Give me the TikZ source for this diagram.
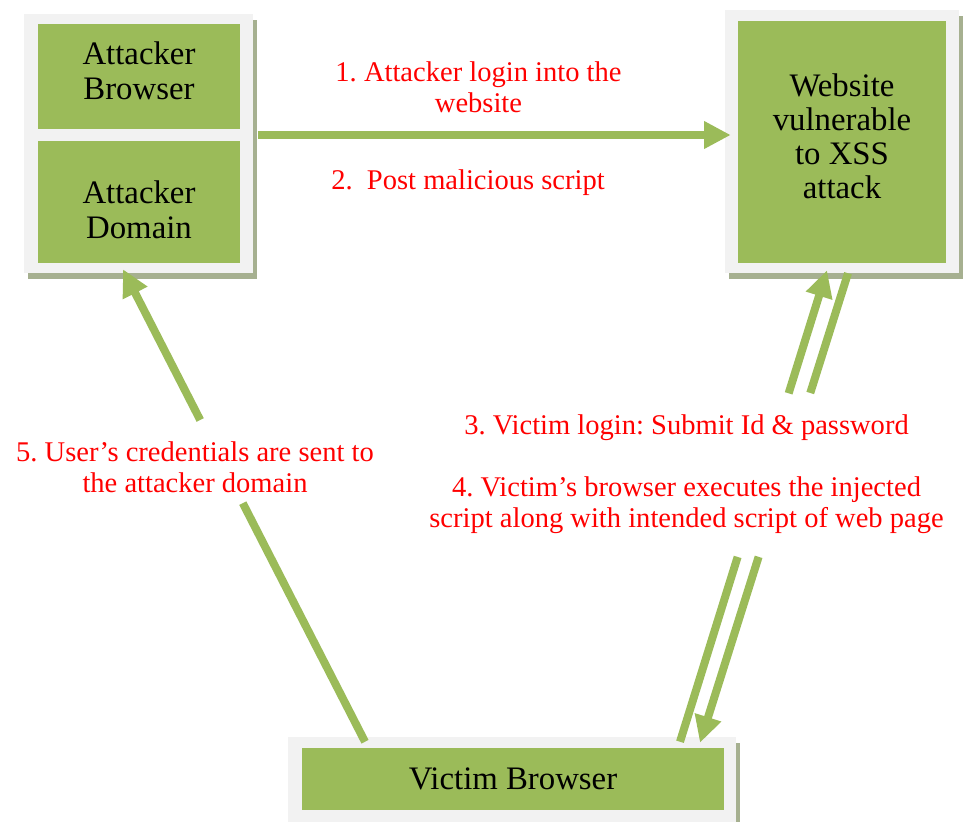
\documentclass[tikz,border=0pt]{standalone}
\usepackage{fontspec}
\setmainfont{Liberation Serif}
\usetikzlibrary{arrows.meta,calc,shadows}
\definecolor{boxgreen}{RGB}{155,187,89}
\definecolor{panelgray}{RGB}{242,242,242}
\definecolor{shadowgray}{RGB}{166,176,144}
\definecolor{noteRed}{RGB}{255,0,0}
\frenchspacing

\begin{document}
\begin{tikzpicture}[x=0.75pt,y=-0.75pt,
  panel/.style={rectangle, fill=panelgray, inner sep=0pt,
    drop shadow={shadow xshift=3pt, shadow yshift=-4.5pt, fill=shadowgray, opacity=1}},
  greenbox/.style={rectangle, fill=boxgreen, inner sep=0pt},
  boxtext/.style={font=\fontsize{24.6pt}{26pt}\selectfont, align=center, text=black, inner sep=0pt},
  note/.style={font=\fontsize{21.4pt}{23.25pt}\selectfont, align=center, text=noteRed, inner sep=0pt},
  flowline/.style={draw=boxgreen, line width=6pt},
  flow/.style={flowline, -{Triangle[length=20pt, width=19.5pt]}},
]
\useasboundingbox (0,0) rectangle (969,821);

% attacker side: two green boxes on one panel
\node[panel, minimum width=171.75pt, minimum height=194.25pt] (atk) at (138.5,143.5) {};
\node[greenbox, minimum width=151.5pt, minimum height=78.75pt] (ab) at (139,76.5) {};
\node[greenbox, minimum width=151.5pt, minimum height=91.5pt] (ad) at (139,202) {};
\node[boxtext] (abt) at (139,70.5) {Attacker\\Browser};
\node[boxtext] (adt) at (139,209.5) {Attacker\\Domain};

% vulnerable website
\node[panel, minimum width=175.5pt, minimum height=197.25pt] (wsp) at (842,141.5) {};
\node[greenbox, minimum width=156pt, minimum height=181.5pt] (ws) at (842,142) {};
\node[boxtext, font=\fontsize{24.6pt}{25.6pt}\selectfont] (wst) at (842,136) {Website\\vulnerable\\to XSS\\attack};

% victim
\node[panel, minimum width=336pt, minimum height=63.75pt] (vbp) at (512,779.5) {};
\node[greenbox, minimum width=316.5pt, minimum height=46.5pt] (vb) at (513,779) {};
\node[boxtext] (vbt) at (513,779) {Victim Browser};

% connector end points
\coordinate (a1s) at ([shift={(4.5,-8.5)}]atk.east);
\coordinate (a1t) at ([shift={(6,-6.5)}]wsp.west);
\coordinate (s3) at ([shift={(168,5)}]vbp.north);
\coordinate (t3) at ([shift={(-15,-3)}]wsp.south);
\coordinate (s4) at ([shift={(6,0)}]wsp.south);
\coordinate (t4) at ([shift={(188,6)}]vbp.north);
\coordinate (s5) at ([shift={(-147,5)}]vbp.north);
\coordinate (t5) at ([shift={(-15.5,-4)}]atk.south);

% 1/2: attacker to website
\draw[flow] (a1s) -- (a1t);
% 3: victim login, broken where the note sits
\draw[flowline] (s3) -- ($(s3)!0.392!(t3)$);
\draw[flow] ($(s3)!0.739!(t3)$) -- (t3);
% 4: page served back to the victim
\draw[flowline] (s4) -- ($(s4)!0.255!(t4)$);
\draw[flow] ($(s4)!0.604!(t4)$) -- (t4);
% 5: credentials leak to the attacker domain
\draw[flowline] (s5) -- ($(s5)!0.505!(t5)$);
\draw[flow] ($(s5)!0.681!(t5)$) -- (t5);

% step notes
\node[note] (n1) at (478.5,87.5) {1. Attacker login into the\\website};
\node[note] (n2) at (468,183) {2.\ \ Post malicious script};
\node[note] (n34) at (686.5,474) {3. Victim login: Submit Id \& password\\[23.5pt]4. Victim’s browser executes the injected\\script along with intended script of web page};
\node[note] (n5) at (195,467) {5. User’s credentials are sent to\\the attacker domain};
\end{tikzpicture}
\end{document}
